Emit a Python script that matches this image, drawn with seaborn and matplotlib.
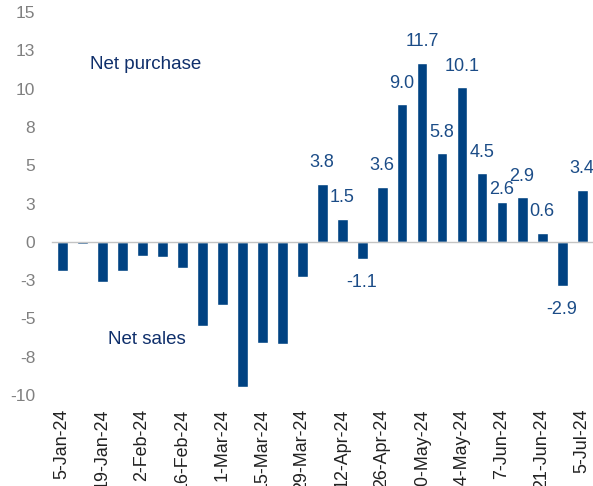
"""Weekly net purchase / net sales bar chart."""
import matplotlib
matplotlib.use("Agg")
import matplotlib.pyplot as plt
import numpy as np
import seaborn as sns

# Week-ending dates (every Friday) and weekly net flows
weeks = [
    "5-Jan-24", "12-Jan-24", "19-Jan-24", "26-Jan-24", "2-Feb-24", "9-Feb-24",
    "16-Feb-24", "23-Feb-24", "1-Mar-24", "8-Mar-24", "15-Mar-24", "22-Mar-24",
    "29-Mar-24", "5-Apr-24", "12-Apr-24", "19-Apr-24", "26-Apr-24", "3-May-24",
    "10-May-24", "17-May-24", "24-May-24", "31-May-24", "7-Jun-24", "14-Jun-24",
    "21-Jun-24", "28-Jun-24", "5-Jul-24",
]
net_flow = [
    -1.9, -0.15, -2.6, -1.9, -0.9, -1.0, -1.7, -5.5, -4.1, -9.5, -6.6, -6.7,
    -2.3, 3.8, 1.5, -1.1, 3.6, 9.0, 11.7, 5.8, 10.1, 4.5, 2.6, 2.9, 0.6, -2.9, 3.4,
]
# only weeks from April onwards carry a value label
labelled_weeks = weeks[13:]

y_ticks = [-10, -7.5, -5, -2.5, 0, 2.5, 5, 7.5, 10, 12.5, 15]
y_tick_labels = ["-10", "-8", "-5", "-3", "0", "3", "5", "8", "10", "13", "15"]

BAR = "#004282"
LABEL = "#1b4c87"
NOTE = "#0f2f6b"
GREY = "#808080"

sns.set_theme(style="white")
plt.rcParams["font.family"] = ["Liberation Sans", "DejaVu Sans"]

fig = plt.figure(figsize=(5.93, 4.86), dpi=100)
ax = fig.add_axes([52 / 593, 1 - 395 / 486, 540 / 593, 383 / 486])

sns.barplot(x=weeks, y=net_flow, color=BAR, saturation=1, width=0.55, ax=ax)

ax.set_xlim(-0.5, len(weeks) - 0.5)
ax.set_ylim(-10, 15)
ax.set_yticks(y_ticks, y_tick_labels)
ax.tick_params(axis="y", length=0, pad=12, labelsize=12.5, labelcolor=GREY)

# zero line with small ticks between the weeks
for side in ["left", "top", "right"]:
    ax.spines[side].set_visible(False)
ax.spines["bottom"].set_position(("data", 0))
ax.spines["bottom"].set_color("#c4c4c4")
ax.spines["bottom"].set_linewidth(1.0)
ax.set_xticks([])
ax.set_xticks(np.arange(-0.5, len(weeks), 1), minor=True)
ax.tick_params(axis="x", which="minor", direction="out", length=5,
               color="#c4c4c4", width=1.0)
ax.set_xlabel("")

# date labels along the bottom, every second week
sec = ax.secondary_xaxis("bottom")
pos = list(range(0, len(weeks), 2))
sec.set_xticks(pos, [weeks[i] for i in pos], rotation=90)
sec.tick_params(length=0, pad=10, labelsize=12.9, labelcolor="#222222")
sec.spines["bottom"].set_visible(False)

# the 7-Jun label sits closer to its bar so it clears the 14-Jun one
nudge = {"7-Jun-24": 9}
for i, (w, v) in enumerate(zip(weeks, net_flow)):
    if w not in labelled_weeks:
        continue
    off = nudge.get(w, 15) if v > 0 else -17
    ax.annotate(f"{v:.1f}", (i, v), xytext=(0, off),
                textcoords="offset points", ha="center", va="center",
                fontsize=13, color=LABEL)

ax.text(1.4, 11.6, "Net purchase", fontsize=13.5, color=NOTE, va="center")
ax.text(2.3, -6.4, "Net sales", fontsize=13.5, color=NOTE, va="center")

fig.savefig("out.png", dpi=100)
